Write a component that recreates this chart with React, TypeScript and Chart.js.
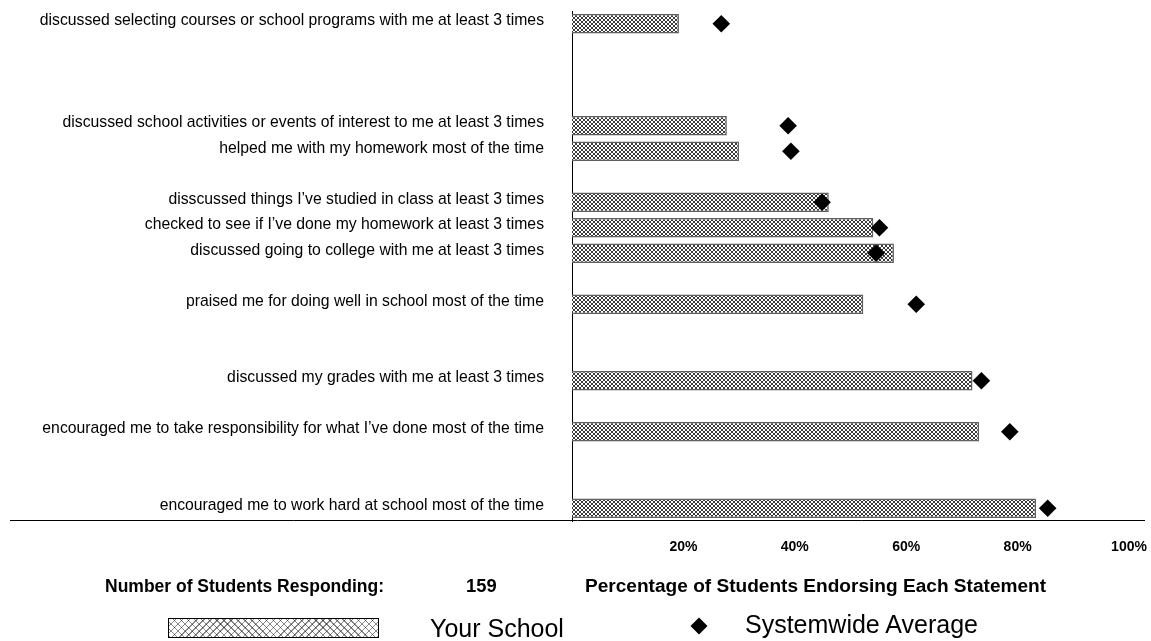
import React, { useEffect, useRef } from 'react';
import { Chart, registerables } from 'chart.js';

Chart.register(...registerables);

const FONT = '"Liberation Sans", Arial, Helvetica, sans-serif';

const statements: string[] = [
  'discussed selecting courses or school programs with me at least 3 times',
  '',
  '',
  '',
  'discussed school activities or events of interest to me at least 3 times',
  'helped me with my homework most of the time',
  '',
  'disscussed things I\u2019ve studied in class at least 3 times',
  'checked to see if I\u2019ve done my homework at least 3 times',
  'discussed going to college with me at least 3 times',
  '',
  'praised me for doing well in school most of the time',
  '',
  '',
  'discussed my grades with me at least 3 times',
  '',
  'encouraged me to take responsibility for what I\u2019ve done most of the time',
  '',
  '',
  'encouraged me to work hard at school most of the time',
];

const yourSchool: (number | null)[] = [
  19.2, null, null, null, 27.8, 30.0, null, 46.1, 54.1, 57.8,
  null, 52.3, null, null, 71.9, null, 73.1, null, null, 83.3,
];

const systemwide: (number | null)[] = [
  26.8, null, null, null, 38.8, 39.3, null, 44.9, 55.2, 54.6,
  null, 61.8, null, null, 73.5, null, 78.6, null, null, 85.4,
];

const xTickValues = [20, 40, 60, 80, 100];

const respondents = 159;

function makeHatch(ctx: CanvasRenderingContext2D) {
  const c = document.createElement('canvas');
  c.width = 4;
  c.height = 4;
  const g = c.getContext('2d')!;
  g.fillStyle = '#ffffff';
  g.fillRect(0, 0, 4, 4);
  g.fillStyle = '#3a3a3a';
  for (let i = 0; i < 4; i++) {
    g.fillRect(i, i, 1, 1);
    g.fillRect(3 - i, i, 1, 1);
  }
  return ctx.createPattern(c, 'repeat')!;
}

const axisLinePlugin = {
  id: 'axisLine',
  afterDraw(chart: any) {
    const ctx = chart.ctx;
    const y = Math.round(chart.chartArea.bottom) - 0.5;
    ctx.save();
    ctx.strokeStyle = '#000';
    ctx.lineWidth = 1;
    ctx.beginPath();
    ctx.moveTo(10, y);
    ctx.lineTo(1145, y);
    ctx.stroke();
    ctx.restore();
  },
};

export default function App() {
  const ref = useRef<HTMLCanvasElement>(null);

  useEffect(() => {
    const canvas = ref.current!;
    const ctx = canvas.getContext('2d')!;
    const hatch = makeHatch(ctx);
    const chart = new Chart(canvas, {
      type: 'bar',
      data: {
        labels: statements,
        datasets: [
          {
            type: 'bar',
            label: 'Your School',
            data: yourSchool as any,
            indexAxis: 'y',
            backgroundColor: hatch as any,
            borderColor: '#606060',
            borderWidth: 1.5,
            barPercentage: 0.77,
            categoryPercentage: 1,
            order: 2,
          } as any,
          {
            type: 'line',
            label: 'Systemwide Average',
            data: systemwide as any,
            indexAxis: 'y',
            showLine: false,
            pointStyle: 'rectRot',
            pointRadius: 8.8,
            pointHoverRadius: 8.8,
            backgroundColor: '#000',
            borderColor: '#000',
            pointBorderWidth: 0,
            order: 1,
          } as any,
        ],
      },
      options: {
        indexAxis: 'y',
        animation: false,
        responsive: false,
        layout: { autoPadding: false, padding: { top: 11, right: 22, left: 0, bottom: 0 } },
        plugins: {
          legend: { display: false },
          tooltip: { enabled: false },
        },
        scales: {
          y: {
            type: 'category',
            grid: { display: false, drawTicks: false },
            border: { display: true, color: '#000', width: 1 },
            ticks: {
              autoSkip: false,
              color: '#000',
              font: { family: FONT, size: 15.75 },
              padding: 28,
              labelOffset: -3,
            },
            afterFit: (s: any) => {
              s.width = 572;
              s.paddingTop = 0;
              s.paddingBottom = 0;
            },
          },
          x: {
            type: 'linear',
            min: 0,
            max: 100,
            grid: { display: false, drawTicks: false },
            border: { display: false },
            afterBuildTicks: (s: any) => {
              s.ticks = [0, ...xTickValues].map((v) => ({ value: v }));
            },
            ticks: {
              color: '#000',
              font: { family: FONT, size: 14, weight: 'bold' },
              padding: 18,
              maxRotation: 0,
              callback: (v: any) => (v === 0 ? '' : v + '%'),
            },
            afterFit: (s: any) => {
              s.height = 120;
              s.paddingLeft = 0;
              s.paddingRight = 0;
            },
          },
        },
      } as any,
      plugins: [axisLinePlugin],
    });
    return () => chart.destroy();
  }, []);

  const bold: React.CSSProperties = {
    position: 'absolute',
    fontFamily: FONT,
    fontWeight: 'bold',
    fontSize: 17.5,
    lineHeight: '20px',
    whiteSpace: 'nowrap',
    color: '#000',
    transformOrigin: 'left center',
  };
  const big: React.CSSProperties = {
    position: 'absolute',
    fontFamily: FONT,
    fontSize: 25,
    lineHeight: '28px',
    whiteSpace: 'nowrap',
    color: '#000',
  };

  return (
    <div style={{ position: 'absolute', left: 0, top: 0, width: 1151, height: 641, background: '#fff', overflow: 'hidden' }}>
      <canvas ref={ref} width={1151} height={641} style={{ position: 'absolute', left: 0, top: 0, width: 1151, height: 641 }} />
      <div style={{ ...bold, left: 105, top: 576 }}>Number of Students Responding:</div>
      <div style={{ ...bold, left: 466, top: 576, transform: 'scaleX(1.05)' }}>{respondents}</div>
      <div style={{ ...bold, left: 585, top: 576, transform: 'scaleX(1.09)' }}>Percentage of Students Endorsing Each Statement</div>
      <div
        style={{
          position: 'absolute',
          left: 168,
          top: 618,
          width: 209,
          height: 18,
          border: '1px solid #000',
          background:
            'repeating-linear-gradient(45deg, #888 0px, #888 1px, #fff 1px, #fff 5px), repeating-linear-gradient(-45deg, #888 0px, #888 1px, transparent 1px, transparent 5px)',
          backgroundBlendMode: 'multiply',
        }}
      />
      <div style={{ ...big, left: 430, top: 614 }}>Your School</div>
      <div
        style={{
          position: 'absolute',
          left: 693,
          top: 620,
          width: 12,
          height: 12,
          background: '#000',
          transform: 'rotate(45deg)',
        }}
      />
      <div style={{ ...big, left: 745, top: 610 }}>Systemwide Average</div>
    </div>
  );
}
